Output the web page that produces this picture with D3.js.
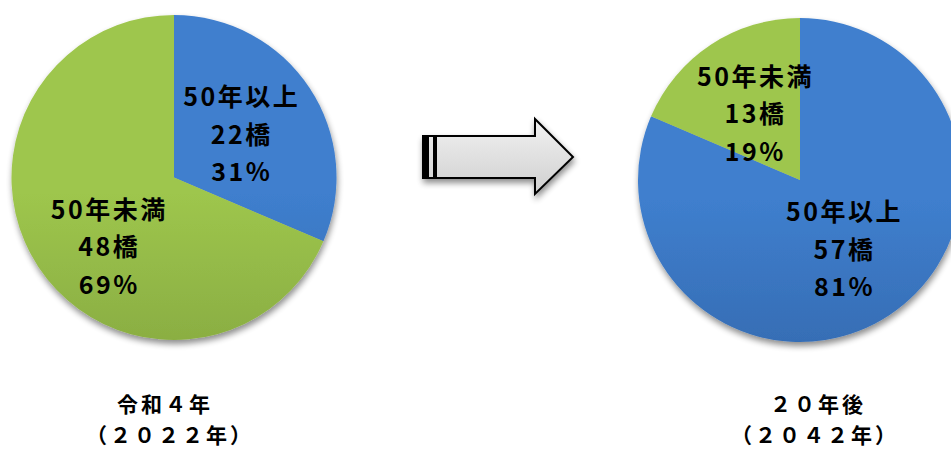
<!DOCTYPE html>
<html>
<head>
<meta charset="utf-8">
<script src="https://cdn.jsdelivr.net/npm/d3@7"></script>
<style>
  html, body { margin: 0; padding: 0; background: #fff; }
  svg { display: block; }
  text { font-family: "Noto Sans CJK JP", "Noto Sans", sans-serif; fill: #000; }
</style>
</head>
<body>
<svg id="chart" width="951" height="450"></svg>
<script>
// ---- data ----
const categories = ["50年以上", "50年未満"];
const values2022 = [22, 48];
const values2042 = [57, 13];
const unitLabel = "橋";
const captions2022 = ["令和４年", "（２０２２年）"];
const captions2042 = ["２０年後", "（２０４２年）"];

// ---- styles ----
const colorTop = { "50年以上": "#3f7fce", "50年未満": "#9ec64d" };
const colorBottom = { "50年以上": "#2b5896", "50年未満": "#739236" };

const svg = d3.select("#chart");
const defs = svg.append("defs");

// drop shadow
const f = defs.append("filter").attr("id", "shadow")
  .attr("x", "-20%").attr("y", "-20%").attr("width", "140%").attr("height", "140%");
f.append("feGaussianBlur").attr("in", "SourceAlpha").attr("stdDeviation", 3).attr("result", "b");
f.append("feOffset").attr("in", "b").attr("dx", 1).attr("dy", 4).attr("result", "o");
f.append("feComponentTransfer").attr("in", "o").attr("result", "s")
  .append("feFuncA").attr("type", "linear").attr("slope", 0.45);
const fm = f.append("feMerge");
fm.append("feMergeNode").attr("in", "s");
fm.append("feMergeNode").attr("in", "SourceGraphic");

const pie = d3.pie().sort(null).value(d => d.value);
const percent = d3.format(".0%");

function drawPie(id, cx, cy, r, values, nudges, captions, capX) {
  const data = categories.map((c, i) => ({ cat: c, value: values[i] }));
  const total = d3.sum(values);
  const arcs = pie(data);
  const arc = d3.arc().innerRadius(0).outerRadius(r);
  const labelArc = d3.arc().innerRadius(r * 0.5).outerRadius(r * 0.5);

  categories.forEach((c, i) => {
    const g = defs.append("linearGradient").attr("id", id + "g" + i)
      .attr("gradientUnits", "userSpaceOnUse")
      .attr("x1", 0).attr("x2", 0).attr("y1", cy - r).attr("y2", cy + r);
    g.append("stop").attr("offset", "0%").attr("stop-color", colorTop[c]);
    g.append("stop").attr("offset", "100%").attr("stop-color", colorBottom[c]);
  });

  const g = svg.append("g").attr("transform", `translate(${cx},${cy})`);
  g.append("g").attr("filter", "url(#shadow)")
    .selectAll("path").data(arcs).join("path")
    .attr("d", arc)
    .attr("fill", (d, i) => `url(#${id}g${i})`);

  const lines = d => [d.data.cat, d.data.value + unitLabel, percent(d.data.value / total)];
  const lg = g.selectAll("g.lbl").data(arcs).join("g").attr("class", "lbl")
    .attr("transform", (d, i) => {
      const [x, y] = labelArc.centroid(d);
      return `translate(${x + nudges[i][0]},${y + nudges[i][1]})`;
    });
  lg.selectAll("text").data(d => lines(d)).join("text")
    .attr("x", 0).attr("y", (t, j) => (j - 1) * 37.5)
    .attr("dominant-baseline", "central")
    .attr("text-anchor", "middle")
    .attr("font-size", 25).attr("font-weight", "bold")
    .attr("letter-spacing", 2.5)
    .text(t => t);

  svg.selectAll(null).data(captions).join("text")
    .attr("x", (t, j) => capX[j]).attr("y", (t, j) => 402.5 + j * 31)
    .attr("dominant-baseline", "central")
    .attr("text-anchor", "middle")
    .attr("font-size", 21).attr("font-weight", "bold")
    .attr("letter-spacing", 3)
    .text(t => t);
}

drawPie("p1", 174, 177.5, 162.5, values2022, [[0, 0], [3, 23]], captions2022, [165, 170]);
drawPie("p2", 800, 180, 162, values2042, [[0, 0], [0, 0]], captions2042, [818, 815]);

// ---- arrow (decoration) ----
const ag = defs.append("linearGradient").attr("id", "arrowGrad")
  .attr("x1", 0).attr("x2", 0).attr("y1", 0).attr("y2", 1);
ag.append("stop").attr("offset", "0%").attr("stop-color", "#f2f2f2");
ag.append("stop").attr("offset", "100%").attr("stop-color", "#cfcfcf");
const arrow = svg.append("g").attr("filter", "url(#shadow)");
arrow.append("path")
  .attr("d", "M423,136 L535,136 L535,119 L573,157 L535,194 L535,178 L423,178 Z")
  .attr("fill", "url(#arrowGrad)").attr("stroke", "#000").attr("stroke-width", 2)
  .attr("stroke-linejoin", "miter");
arrow.append("rect").attr("x", 423).attr("y", 136).attr("width", 6).attr("height", 42).attr("fill", "#000");
arrow.append("rect").attr("x", 433).attr("y", 136).attr("width", 4).attr("height", 42).attr("fill", "#000");
</script>
</body>
</html>
